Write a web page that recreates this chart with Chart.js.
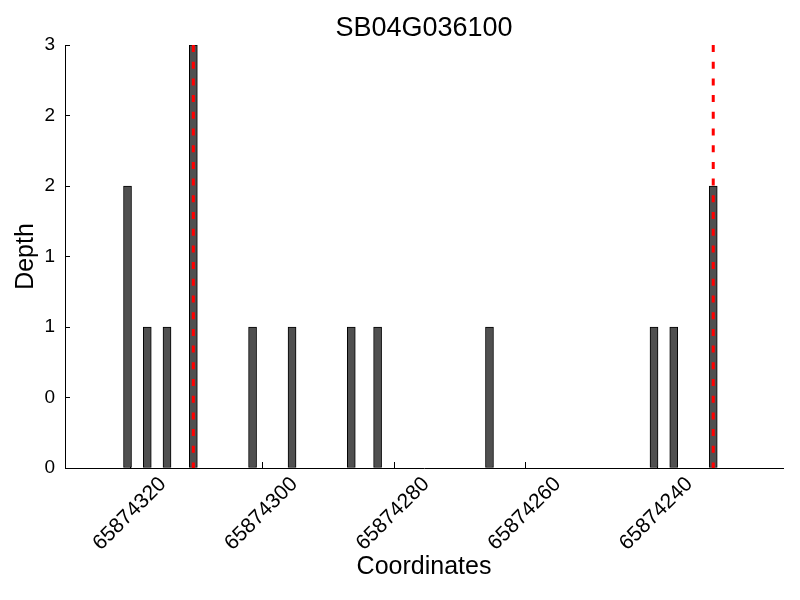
<!DOCTYPE html>
<html><head><meta charset="utf-8">
<script src="https://cdn.jsdelivr.net/npm/chart.js@4.4.0/dist/chart.umd.min.js"></script>
<style>html,body{margin:0;padding:0;background:#fff}</style>
</head><body>
<canvas id="c" width="800" height="600"></canvas>
<script>
const chartTitle = 'SB04G036100';
const xAxisTitle = 'Coordinates';
const yAxisTitle = 'Depth';
const coordinates = [65874320.5, 65874317.5, 65874314.5, 65874310.5, 65874301.5, 65874295.5, 65874286.5, 65874282.5, 65874265.5, 65874240.5, 65874237.5, 65874231.5];
const depths = [2, 1, 1, 3, 1, 1, 1, 1, 1, 1, 1, 2];
const markerCoordinates = [65874310.5, 65874231.5];
const markerRange = [3, 0];
const xTickValues = [65874320, 65874300, 65874280, 65874260, 65874240];
const yTickValues = [0, 0.5, 1, 1.5, 2, 2.5, 3];
const yTickLabels = ['0', '0', '1', '1', '2', '2', '3'];
const xRange = [65874220.9, 65874330];

Chart.defaults.color = '#000';
Chart.defaults.font.family = "'Liberation Sans', Arial, sans-serif";

const barData = coordinates.map((x, i) => ({x: x, y: depths[i]}));
const markerDatasets = markerCoordinates.map(x => ({
  type: 'line',
  data: markerRange.map(y => ({x: x, y: y})),
  borderColor: '#ff0000',
  borderWidth: 3,
  borderDash: [7, 9.7],
  pointRadius: 0,
  fill: false,
  order: 0
}));

// center the title over the plot area, like the reference
const centerTitle = {
  id: 'centerTitle',
  afterLayout(chart) {
    const t = chart.titleBlock;
    if (t) { t.left = chart.chartArea.left; t.right = chart.chartArea.right; }
  }
};

new Chart(document.getElementById('c'), {
  type: 'bar',
  data: {
    datasets: [{
      type: 'bar',
      data: barData,
      backgroundColor: '#505050',
      borderColor: '#000',
      borderWidth: 1,
      borderSkipped: false,
      barThickness: 8,
      order: 1
    }].concat(markerDatasets)
  },
  plugins: [centerTitle],
  options: {
    responsive: false,
    animation: false,
    devicePixelRatio: 1,
    layout: {padding: {left: 0, right: 17, top: 0, bottom: 0}},
    plugins: {
      legend: {display: false},
      tooltip: {enabled: false},
      title: {
        display: true,
        text: chartTitle,
        color: '#000',
        font: {size: 27, weight: 'normal'},
        padding: {top: 12, bottom: 0.6}
      }
    },
    scales: {
      x: {
        type: 'linear',
        reverse: true,
        min: xRange[0],
        max: xRange[1],
        offset: false,
        afterBuildTicks: s => { s.ticks = xTickValues.map(v => ({value: v})); },
        afterFit: s => { s.height = 132; },
        grid: {display: true, drawOnChartArea: false, drawTicks: true, tickLength: -6, tickColor: '#000', offset: false},
        border: {display: true, color: '#000', width: 1},
        ticks: {
          autoSkip: false, maxRotation: 45, minRotation: 45,
          font: {size: 21}, padding: 10, labelOffset: 32,
          callback: v => String(v)
        },
        title: {display: true, text: xAxisTitle, font: {size: 25}, padding: {top: 0, bottom: 18}}
      },
      y: {
        type: 'linear',
        min: 0,
        max: 3,
        afterBuildTicks: s => { s.ticks = yTickValues.map(v => ({value: v})); },
        afterFit: s => { s.width = 65; },
        grid: {display: true, drawOnChartArea: false, drawTicks: true, tickLength: -5, tickColor: '#000'},
        border: {display: true, color: '#000', width: 1},
        ticks: {
          font: {size: 19}, padding: 15,
          callback: (v, i) => yTickLabels[i]
        },
        title: {display: true, text: yAxisTitle, font: {size: 25}, padding: {top: 11, bottom: 0}}
      }
    }
  }
});
</script>
</body></html>
